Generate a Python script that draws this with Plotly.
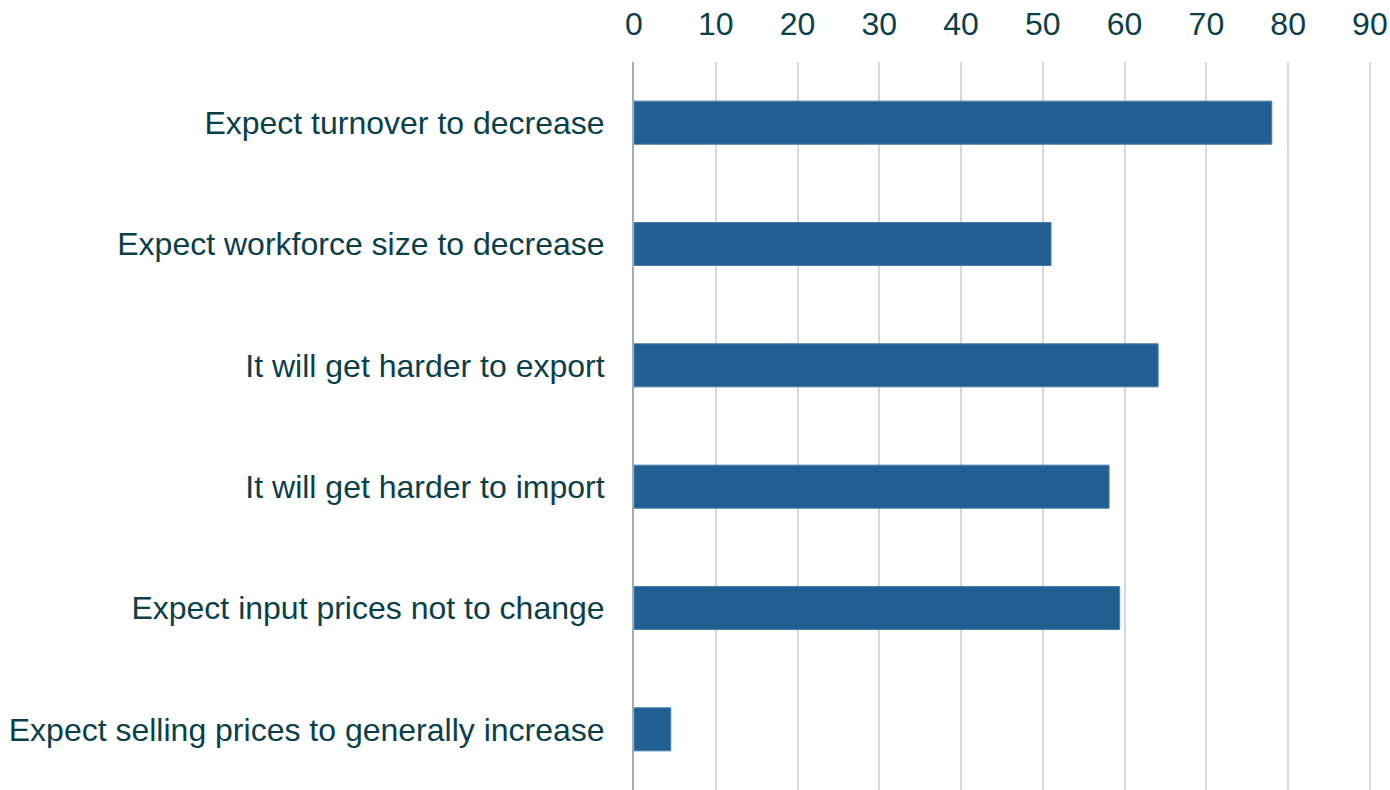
import plotly.graph_objects as go

categories = [
    "Expect turnover to decrease",
    "Expect workforce size to decrease",
    "It will get harder to export",
    "It will get harder to import",
    "Expect input prices not to change",
    "Expect selling prices to generally increase",
]
values = [78.0, 51.0, 64.1, 58.1, 59.4, 4.5]
tick_vals = [0, 10, 20, 30, 40, 50, 60, 70, 80, 90]

text_color = "#0b3f4a"

fig = go.Figure(
    go.Bar(
        x=values,
        y=categories,
        orientation="h",
        marker=dict(color="#215f93", line=dict(color="#4a7fae", width=1)),
        width=0.355,
        hoverinfo="x+y",
    )
)

fig.update_layout(
    width=1390,
    height=790,
    margin=dict(l=634, r=16, t=62, b=0),
    plot_bgcolor="white",
    paper_bgcolor="white",
    font=dict(family="Liberation Sans, Arial, sans-serif", size=32, color=text_color),
    showlegend=False,
)

fig.update_xaxes(
    side="top",
    range=[0, 90.5],
    tickvals=tick_vals,
    showgrid=True,
    gridcolor="#d9d9d9",
    gridwidth=2,
    zeroline=False,
    showline=False,
    ticks="",
    automargin=False,
    ticklabeloverflow="allow",
    ticklabelstandoff=20,
    tickfont=dict(size=32, color=text_color),
)

fig.update_yaxes(
    range=[5.5, -0.5],
    showgrid=False,
    zeroline=False,
    showline=True,
    linecolor="#aaaaaa",
    linewidth=2,
    ticks="",
    automargin=False,
    ticklabelstandoff=21,
    tickfont=dict(size=32, color=text_color),
)

fig.write_html(
    "out.html",
    config={"displayModeBar": False},
    post_script="document.body.style.margin='0';document.body.style.overflow='hidden';",
)
